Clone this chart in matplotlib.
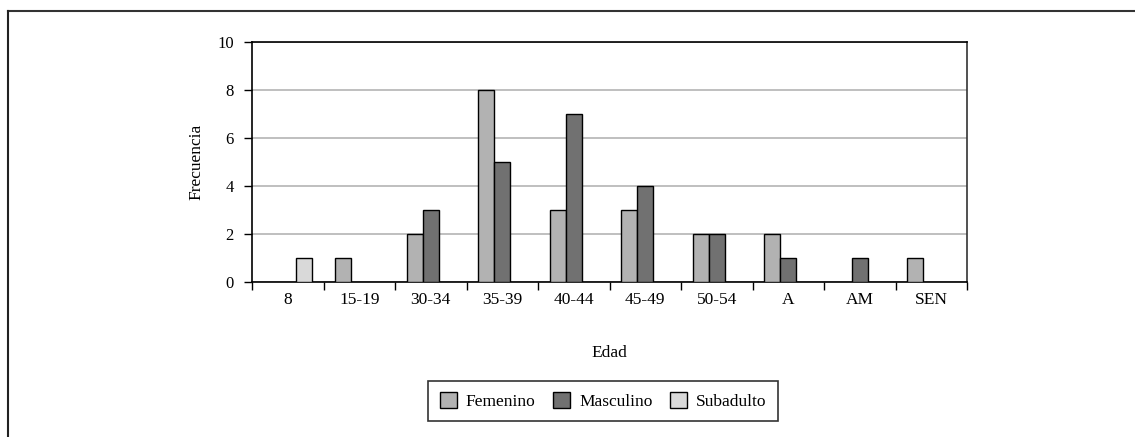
import numpy as np
import matplotlib
matplotlib.use('Agg')
import matplotlib.pyplot as plt
from matplotlib.lines import Line2D
from matplotlib.ticker import FixedLocator, NullFormatter

plt.rcParams['font.family'] = ['Liberation Serif', 'DejaVu Serif']

# data
categories = ['8', '15-19', '30-34', '35-39', '40-44', '45-49', '50-54', 'A', 'AM', 'SEN']
femenino = [0, 1, 2, 8, 3, 3, 2, 2, 0, 1]
masculino = [0, 0, 3, 5, 7, 4, 2, 1, 1, 0]
subadulto = [1, 0, 0, 0, 0, 0, 0, 0, 0, 0]
series = ['Femenino', 'Masculino', 'Subadulto']
colors = ['#b2b2b2', '#717171', '#d9d9d9']

W, H = 1135, 437
fig = plt.figure(figsize=(W / 100, H / 100), dpi=100)
ax = fig.add_axes([252 / W, 1 - 282 / H, 715 / W, 240 / H])

x = np.arange(len(categories))
bw = 0.222
for i, (vals, name, col) in enumerate(zip([femenino, masculino, subadulto], series, colors)):
    v = np.array(vals, dtype=float)
    mask = v > 0
    ax.bar(x[mask] + (i - 1) * bw, v[mask], width=bw, color=col,
           edgecolor='black', linewidth=1.0, label=name, zorder=3)

ax.set_xlim(-0.5, len(categories) - 0.5)
ax.set_ylim(0, 10)
ax.set_yticks(range(0, 11, 2))
ax.yaxis.grid(True, color='#b4b4b4', linewidth=1.2, zorder=0)
ax.set_xticks(x)
ax.set_xticklabels(categories, fontsize=12.5)
ax.xaxis.set_minor_locator(FixedLocator(np.arange(-0.5, len(categories), 1.0)))
ax.xaxis.set_minor_formatter(NullFormatter())
ax.tick_params(axis='x', which='major', length=0, pad=7)
ax.tick_params(axis='x', which='minor', length=6, width=1, color='black')
ax.tick_params(axis='y', length=6, width=1, labelsize=12, pad=7)
for s in ax.spines.values():
    s.set_color('black')
    s.set_linewidth(1.2)
ax.spines['right'].set_color('#333333')

ax.set_ylabel('Frecuencia', fontsize=12.5, labelpad=9)
ax.set_xlabel('Edad', fontsize=12.5, labelpad=27)

leg = ax.legend(loc='center', bbox_to_anchor=(603 / W, 1 - 401 / H),
                bbox_transform=fig.transFigure, ncol=3, fontsize=12.5,
                frameon=True, fancybox=False, edgecolor='black',
                handlelength=1.0, handleheight=1.0, handletextpad=0.5,
                columnspacing=1.0, borderpad=0.65)
leg.get_frame().set_linewidth(1.2)

# outer frame
fig.add_artist(Line2D([8 / W, 1], [1 - 11 / H, 1 - 11 / H], color='#333333', linewidth=1.5))
fig.add_artist(Line2D([8 / W, 8 / W], [0, 1 - 11 / H], color='#222222', linewidth=1.5))

fig.savefig('out.png', dpi=100)
